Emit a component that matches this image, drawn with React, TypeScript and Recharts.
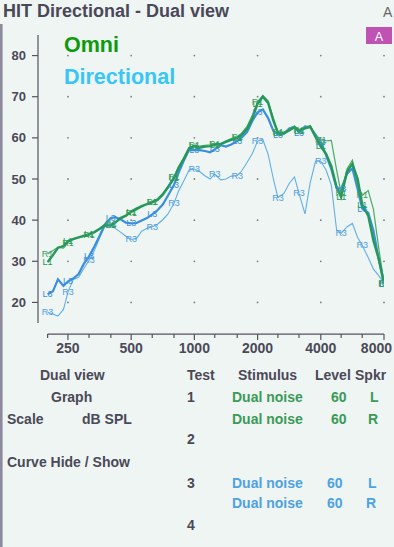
import { LineChart, Line, XAxis, YAxis, ReferenceDot, ReferenceLine } from "recharts";

// 1/12-octave analysis points, 200 Hz .. 8 kHz
const freqs = [
  200, 212, 224, 238, 250, 265, 281, 297, 315, 334, 354, 375, 400, 420, 445, 472, 500, 530, 561, 595,
  630, 667, 707, 749, 800, 841, 891, 944, 1000, 1059, 1122, 1189, 1250, 1335, 1414, 1498, 1600, 1682,
  1782, 1888, 2000, 2119, 2245, 2378, 2500, 2670, 2828, 2997, 3150, 3364, 3564, 3775, 4000, 4238, 4490,
  4757, 5000, 5339, 5657, 5993, 6300, 6727, 7127, 7551, 8000,
];

// test 1 (omni), left / right speaker, dB SPL
const omniL = [
  29.8, 31.5, 33.3, 33.7, 34.9, 35.4, 35.8, 36.2, 36.6, 37.1, 37.9, 38.8, 38.7, 39.4, 40.5, 41.1, 42.1,
  42.8, 43.4, 43.9, 44.3, 44.9, 46.2, 48.0, 50.2, 52.7, 54.9, 57.5, 58.0, 57.6, 57.9, 58.0, 58.3, 58.5,
  59.0, 59.5, 60.0, 60.8, 62.2, 64.7, 68.3, 70.0, 68.5, 64.2, 61.2, 61.1, 61.8, 62.6, 61.7, 62.3, 62.7,
  60.2, 57.9, 56.1, 53.1, 48.0, 45.6, 51.9, 53.7, 50.0, 43.8, 41.1, 35.0, 30.6, 24.6,
];
const omniR = [
  31.8, 32.6, 33.4, 33.2, 34.5, 35.5, 35.8, 36.0, 36.3, 37.0, 37.8, 38.5, 39.0, 39.6, 40.2, 41.0, 41.8,
  42.5, 43.2, 44.0, 44.5, 45.2, 46.5, 48.3, 50.5, 53.0, 55.2, 57.6, 58.2, 58.0, 58.2, 58.3, 58.6, 58.6,
  59.3, 59.8, 60.2, 61.2, 62.8, 65.5, 68.8, 70.3, 69.0, 64.8, 61.5, 61.4, 62.0, 62.9, 62.0, 62.5, 63.0,
  60.5, 59.5, 59.3, 59.4, 52.2, 46.5, 52.5, 54.6, 48.5, 46.0, 47.2, 42.6, 33.2, 24.8,
];

// test 3 (directional), left / right speaker
const dirL = [
  22.0, 22.7, 25.6, 24.0, 25.1, 25.8, 26.9, 29.3, 31.2, 33.6, 36.2, 39.0, 40.5, 40.7, 40.2, 39.4, 39.2,
  39.3, 39.9, 40.5, 41.4, 42.4, 43.8, 46.0, 48.6, 51.5, 54.5, 57.1, 57.0, 57.0, 56.8, 56.5, 57.2, 58.2,
  57.9, 58.4, 59.2, 60.1, 61.4, 64.1, 66.2, 66.9, 64.8, 61.7, 60.8, 61.0, 62.3, 62.7, 61.3, 62.8, 62.6,
  60.8, 59.0, 55.8, 52.4, 47.8, 47.6, 51.3, 52.6, 47.5, 42.8, 41.8, 37.4, 30.5, 24.6,
];
const dirR = [
  17.6, 17.2, 16.7, 18.3, 22.5, 25.6, 26.1, 28.2, 30.2, 32.6, 35.7, 38.5, 38.7, 38.0, 37.1, 36.1, 35.3,
  35.5, 37.3, 38.0, 38.4, 39.0, 40.1, 41.5, 44.1, 47.1, 49.6, 52.2, 52.4, 51.8, 50.8, 50.0, 51.2, 49.8,
  50.0, 50.7, 50.8, 52.0, 54.0, 56.2, 59.2, 59.6, 56.0, 50.0, 45.5, 46.5, 48.9, 50.5, 46.5, 41.5, 49.2,
  54.3, 54.3, 52.2, 48.5, 37.6, 36.8, 38.4, 39.2, 35.8, 33.9, 30.9, 28.1, 26.5, 24.6,
];

const xMajor = [250, 500, 1000, 2000, 4000, 8000];
const xTicks = [200, 250, 315, 400, 500, 630, 800, 1000, 1250, 1600, 2000, 2500, 3150, 4000, 5000, 6300, 8000];
const yTicks = [20, 30, 40, 50, 60, 70, 80];

const data = freqs.map((f, i) => ({ f, l1: omniL[i], r1: omniR[i], l3: dirL[i], r3: dirR[i] }));

const BG = "#eef5f3";
const INK = "#4b4957";
const AXIS = "#55535e";
const GREEN_TXT = "#3b9a58";
const BLUE_TXT = "#4ea2e2";

const table = [
  { text: "Dual view", x: 40, y: 380, c: INK },
  { text: "Test", x: 187, y: 380, c: INK },
  { text: "Stimulus", x: 238, y: 380, c: INK },
  { text: "Level", x: 315, y: 380, c: INK },
  { text: "Spkr", x: 355, y: 380, c: INK },
  { text: "Graph", x: 51, y: 401.5, c: INK },
  { text: "1", x: 187, y: 401.5, c: INK },
  { text: "Dual noise", x: 232, y: 401.5, c: GREEN_TXT },
  { text: "60", x: 331, y: 401.5, c: GREEN_TXT },
  { text: "L", x: 370, y: 401.5, c: GREEN_TXT },
  { text: "Scale", x: 7, y: 424, c: INK },
  { text: "dB SPL", x: 82, y: 424, c: INK },
  { text: "Dual noise", x: 232, y: 424, c: GREEN_TXT },
  { text: "60", x: 331, y: 424, c: GREEN_TXT },
  { text: "R", x: 368, y: 424, c: GREEN_TXT },
  { text: "2", x: 187, y: 444, c: INK },
  { text: "Curve Hide / Show", x: 7, y: 467, c: INK },
  { text: "3", x: 187, y: 487.5, c: INK },
  { text: "Dual noise", x: 232, y: 487.5, c: BLUE_TXT },
  { text: "60", x: 327, y: 487.5, c: BLUE_TXT },
  { text: "L", x: 368, y: 487.5, c: BLUE_TXT },
  { text: "Dual noise", x: 232, y: 508, c: BLUE_TXT },
  { text: "60", x: 327, y: 508, c: BLUE_TXT },
  { text: "R", x: 366, y: 508, c: BLUE_TXT },
  { text: "4", x: 187, y: 529.5, c: INK },
];

function XTick(props: any) {
  const { x, y, payload } = props;
  const major = xMajor.includes(payload.value);
  const last = payload.value === 8000;
  return (
    <g>
      <line x1={x} x2={x} y1={y + 11} y2={y + (major ? 17 : 15)} stroke={AXIS} strokeWidth={1.2} />
      {major && (
        <text
          x={last ? x + 8 : x}
          y={y + 30}
          textAnchor={last ? "end" : "middle"}
          fontSize={14}
          fontWeight={700}
          fill={INK}
        >
          {payload.value}
        </text>
      )}
    </g>
  );
}

// curve tags (L1, R1, ...) every third of an octave
const tagDot = (tag: string, color: string) => (p: any) => {
  if (p.index % 4 !== 0) return <g key={`${tag}-${p.index}`} />;
  return (
    <text
      key={`${tag}-${p.index}`}
      x={p.cx}
      y={p.cy}
      textAnchor="middle"
      dominantBaseline="central"
      fontSize={9}
      fill={color}
    >
      {tag}
    </text>
  );
};

export default function App() {
  return (
    <div
      style={{
        position: "absolute",
        left: 0,
        top: 0,
        width: 394,
        height: 547,
        background: BG,
        overflow: "hidden",
        fontFamily: "'Liberation Sans', Arial, sans-serif",
      }}
    >
      <div style={{ position: "absolute", left: 0, top: 0 }}>
        <LineChart width={394} height={365} data={data} margin={{ top: 35, right: 10, bottom: 0, left: 0 }}>
          <XAxis
            dataKey="f"
            type="number"
            scale="log"
            domain={[180, 8000]}
            ticks={xTicks}
            interval={0}
            allowDataOverflow
            axisLine={false}
            tickLine={false}
            tickSize={0}
            tickMargin={0}
            height={42}
            tick={(p: any) => <XTick {...p} />}
          />
          <YAxis
            type="number"
            domain={[15, 85]}
            ticks={yTicks}
            allowDataOverflow
            width={38}
            tickSize={6}
            tickMargin={6}
            axisLine={{ stroke: AXIS, strokeWidth: 1.2 }}
            tickLine={{ stroke: AXIS, strokeWidth: 1.2 }}
            tick={{ fill: INK, fontSize: 13, fontWeight: 700 }}
          />
          <ReferenceLine
            segment={[{ x: 200, y: 12.3 }, { x: 8000, y: 12.3 }]}
            ifOverflow="visible"
            stroke={AXIS}
            strokeWidth={1.2}
          />
          {xMajor.map((f) =>
            yTicks.map((v) => (
              <ReferenceDot key={`${f}-${v}`} x={f} y={v} r={0.9} fill="#7d7d85" stroke="none" />
            ))
          )}
          <Line dataKey="r3" stroke="#62aee8" strokeWidth={1.1} dot={tagDot("R3", "#4f9fe0")} isAnimationActive={false} />
          <Line dataKey="l3" stroke="#3a8fdc" strokeWidth={2.2} dot={tagDot("L3", "#3a8fdc")} isAnimationActive={false} />
          <Line dataKey="r1" stroke="#4cab66" strokeWidth={1.2} dot={tagDot("R1", "#3a9f5a")} isAnimationActive={false} />
          <Line dataKey="l1" stroke="#23985a" strokeWidth={2.4} dot={tagDot("L1", "#23985a")} isAnimationActive={false} />
        </LineChart>
      </div>
      <svg width={394} height={547} style={{ position: "absolute", left: 0, top: 0, pointerEvents: "none" }}>
        <line x1={1.3} y1={24} x2={1.3} y2={547} stroke="#8d8a9c" strokeWidth={2.6} />
        <text x={3} y={17} fontSize={18} fontWeight={700} fill="#4a4858">
          HIT Directional - Dual view
        </text>
        <text x={383} y={17} fontSize={14} fill="#666">
          A
        </text>
        <rect x={366} y={27} width={26} height={17} fill="#c052b4" />
        <text x={379} y={40.5} fontSize={12.5} fill="#fff" textAnchor="middle">
          A
        </text>
        <text x={64} y={51.5} fontSize={21.5} fontWeight={700} fill="#0e9a0e">
          Omni
        </text>
        <text x={64} y={83.5} fontSize={21.5} fontWeight={700} fill="#38c6f6">
          Directional
        </text>
        {table.map((t, i) => (
          <text key={i} x={t.x} y={t.y} fontSize={14} fontWeight={700} fill={t.c}>
            {t.text}
          </text>
        ))}
      </svg>
    </div>
  );
}
